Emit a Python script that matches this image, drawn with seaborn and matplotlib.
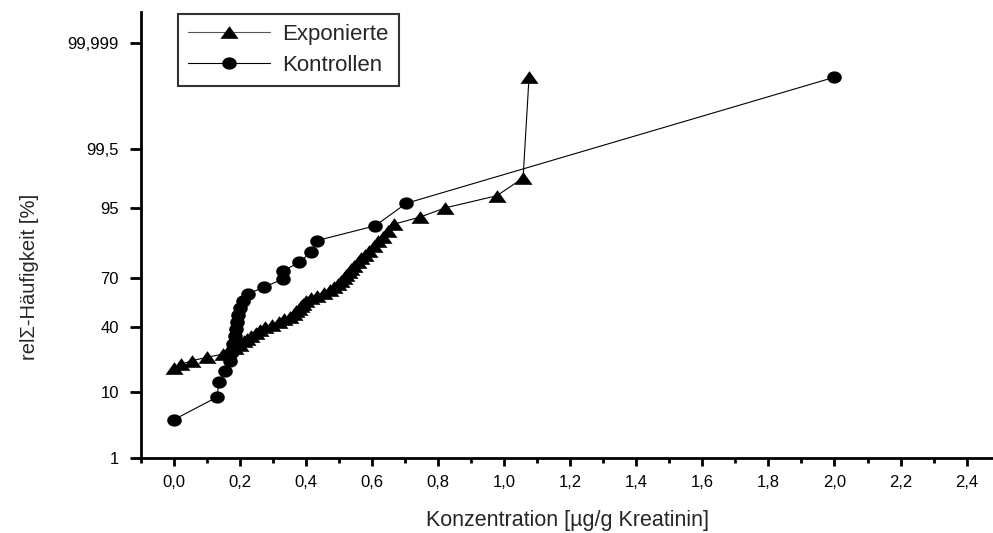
import matplotlib
matplotlib.use("Agg")
import numpy as np
import matplotlib.pyplot as plt
import seaborn as sns
import pandas as pd
from statistics import NormalDist
from matplotlib.ticker import FixedLocator, MultipleLocator, FixedFormatter

# Cumulative frequency (%) against concentration, exposed group
exp_conc = [0.0, 0.020, 0.053, 0.099, 0.149, 0.163, 0.184, 0.199, 0.211, 0.222,
            0.234, 0.247, 0.260, 0.274, 0.296, 0.318, 0.334, 0.350, 0.363, 0.370,
            0.377, 0.384, 0.391, 0.400, 0.415, 0.434, 0.455, 0.471, 0.484, 0.497,
            0.507, 0.514, 0.521, 0.529, 0.537, 0.546, 0.556, 0.567, 0.579, 0.591,
            0.605, 0.619, 0.633, 0.648, 0.665, 0.745, 0.821, 0.978, 1.057, 1.075]
exp_pct = [18.3, 20.0, 21.7, 23.3, 25.0, 26.7, 28.3, 30.0, 31.7, 33.3,
           35.0, 36.7, 38.3, 40.0, 41.7, 43.3, 45.0, 46.7, 48.3, 50.0,
           51.7, 53.3, 55.0, 56.7, 58.3, 60.0, 61.7, 63.3, 65.0, 66.7,
           68.3, 70.0, 71.7, 73.3, 75.0, 76.7, 78.3, 80.0, 81.7, 83.3,
           85.0, 86.7, 88.3, 90.0, 91.7, 93.3, 95.0, 96.7, 98.3, 99.99]

# Control group
ctl_conc = [0.0, 0.130, 0.136, 0.155, 0.171, 0.176, 0.179, 0.185, 0.188, 0.191,
            0.195, 0.200, 0.209, 0.224, 0.273, 0.330, 0.330, 0.379, 0.415, 0.433,
            0.609, 0.703, 2.0]
ctl_pct = [4.3, 8.7, 13.0, 17.4, 21.7, 26.1, 30.4, 34.8, 39.1, 43.5,
           47.8, 52.2, 56.5, 60.9, 65.2, 69.6, 73.9, 78.3, 82.6, 87.0,
           91.3, 95.7, 99.99]

# Probability-scale ticks
y_ticks = [1, 10, 40, 70, 95, 99.5, 99.999]
y_tick_labels = ["1", "10", "40", "70", "95", "99,5", "99,999"]
x_ticks = [0.0, 0.2, 0.4, 0.6, 0.8, 1.0, 1.2, 1.4, 1.6, 1.8, 2.0, 2.2, 2.4]
x_tick_labels = ["0,0", "0,2", "0,4", "0,6", "0,8", "1,0", "1,2", "1,4",
                 "1,6", "1,8", "2,0", "2,2", "2,4"]

nd = NormalDist()


def probit(p):
    return nd.inv_cdf(p / 100.0)


df_exp = pd.DataFrame({"x": exp_conc, "z": [probit(p) for p in exp_pct]})
df_ctl = pd.DataFrame({"x": ctl_conc, "z": [probit(p) for p in ctl_pct]})

sns.set_style("ticks")
plt.rcParams["font.family"] = ["Liberation Sans", "DejaVu Sans"]

fig = plt.figure(figsize=(9.93, 5.33), dpi=100)
ax = fig.add_axes([0.142, 0.1407, 0.858, 0.8368])

# Wide, flat triangle and slightly oval dot
tri = [(-1.0, -0.70), (1.0, -0.70), (0.0, 0.70)]
t = np.linspace(0, 2 * np.pi, 41)
oval = list(zip(np.cos(t), 0.84 * np.sin(t)))

sns.lineplot(data=df_exp, x="x", y="z", ax=ax, sort=False, estimator=None,
             color="black", lw=0.8, marker=tri, markersize=13,
             markeredgewidth=0, label="Exponierte")
sns.lineplot(data=df_ctl, x="x", y="z", ax=ax, sort=False, estimator=None,
             color="black", lw=0.8, marker=oval, markersize=10.5,
             markeredgewidth=0, label="Kontrollen")

ax.set_xlim(-0.1, 2.48)
ax.set_ylim(probit(1), probit(99.999) + 0.49)

ax.xaxis.set_major_locator(FixedLocator(x_ticks))
ax.xaxis.set_major_formatter(FixedFormatter(x_tick_labels))
ax.xaxis.set_minor_locator(MultipleLocator(0.1))
ax.yaxis.set_major_locator(FixedLocator([probit(v) for v in y_ticks]))
ax.yaxis.set_major_formatter(FixedFormatter(y_tick_labels))

for side in ["top", "right"]:
    ax.spines[side].set_visible(False)
for side in ["left", "bottom"]:
    ax.spines[side].set_linewidth(2.0)
    ax.spines[side].set_color("black")

ax.tick_params(axis="y", which="major", length=8, width=2, colors="black",
               labelsize=12, pad=8)
ax.tick_params(axis="x", which="major", length=6, width=2, colors="black",
               labelsize=12, pad=6)
ax.tick_params(axis="x", which="minor", length=3.5, width=2, colors="black")

ax.set_xlabel("Konzentration [µg/g Kreatinin]", fontsize=15.5)
ax.xaxis.set_label_coords(0.5, -0.117)
ax.set_ylabel("relΣ-Häufigkeit [%]", fontsize=14.5)
ax.yaxis.set_label_coords(-0.12, 0.406)

leg = ax.legend(loc="upper left", bbox_to_anchor=(0.041, 1.0), fontsize=16,
                frameon=True, fancybox=False, edgecolor="black",
                handlelength=3.7, handletextpad=0.55, borderpad=0.45,
                labelspacing=0.45, borderaxespad=0.1)
leg.get_frame().set_linewidth(1.5)
leg.get_lines()[0].set_color("#555555")
for ln in leg.get_lines():
    ln.set_markerfacecolor("black")
    ln.set_markeredgecolor("black")

fig.savefig("out.png", dpi=100)
